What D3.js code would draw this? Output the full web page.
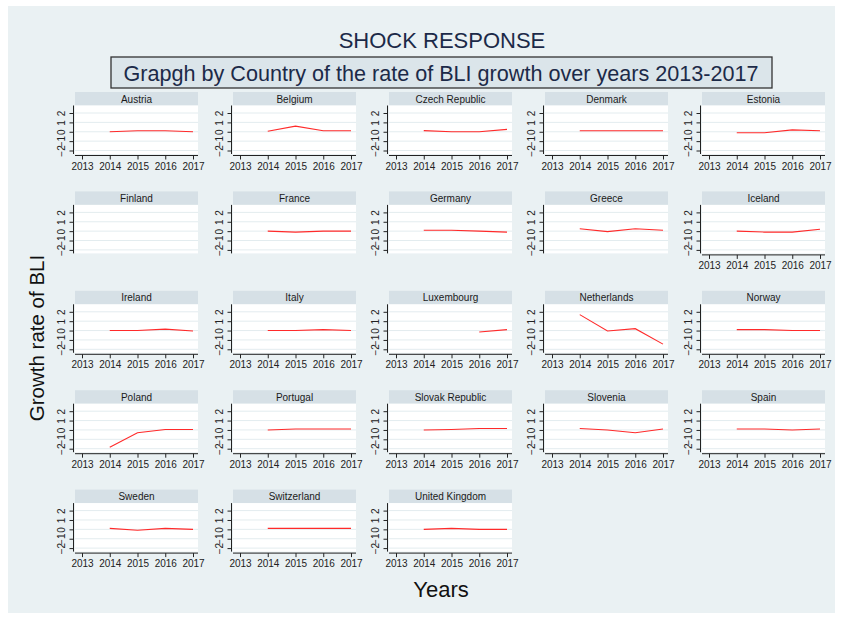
<!DOCTYPE html>
<html><head><meta charset="utf-8">
<script src="https://cdn.jsdelivr.net/npm/d3@7"></script>
<style>body{margin:0;background:#fff}svg{display:block;font-family:"Liberation Sans",Arial,sans-serif}</style>
</head><body><svg id="c" width="841" height="619"></svg>
<script>
const years = [2013, 2014, 2015, 2016, 2017];
const yTicks = [-2, -1, 0, 1, 2];
const countries = ["Austria","Belgium","Czech Republic","Denmark","Estonia",
  "Finland","France","Germany","Greece","Iceland",
  "Ireland","Italy","Luxembourg","Netherlands","Norway",
  "Poland","Portugal","Slovak Republic","Slovenia","Spain",
  "Sweden","Switzerland","United Kingdom"];
// values for 2014, 2015, 2016, 2017 (null = missing)
const dataYears = [2014, 2015, 2016, 2017];
const Austria = [0, 0.1, 0.1, 0];
const Belgium = [0.05, 0.6, 0.1, 0.1];
const Czech = [0.12, 0, 0, 0.25];
const Denmark = [0.1, 0.1, 0.1, 0.1];
const Estonia = [-0.1, -0.1, 0.2, 0.1];
const Finland = [null, null, null, null];
const France = [0, -0.1, 0, 0];
const Germany = [0.1, 0.1, 0, -0.1];
const Greece = [0.25, -0.05, 0.25, 0.1];
const Iceland = [0, -0.1, -0.1, 0.2];
const Ireland = [0, 0, 0.15, -0.05];
const Italy = [0, 0, 0.1, 0];
const Luxembourg = [null, null, -0.15, 0.1];
const Netherlands = [1.7, -0.05, 0.2, -1.45];
const Norway = [0.1, 0.1, 0, 0];
const Poland = [-1.85, -0.3, 0.05, 0.05];
const Portugal = [0, 0.1, 0.1, 0.1];
const Slovak = [0, 0.05, 0.15, 0.15];
const Slovenia = [0.15, 0, -0.3, 0.1];
const Spain = [0.1, 0.1, 0, 0.1];
const Sweden = [0.1, -0.1, 0.1, 0];
const Switzerland = [0.1, 0.1, 0.1, 0.1];
const UK = [0, 0.1, 0, 0];
const series = [Austria,Belgium,Czech,Denmark,Estonia,Finland,France,Germany,Greece,Iceland,
  Ireland,Italy,Luxembourg,Netherlands,Norway,Poland,Portugal,Slovak,Slovenia,Spain,Sweden,Switzerland,UK];
// panels whose x axis is hidden
const noXAxis = ["Finland","France","Germany","Greece"];

const svg = d3.select("#c");
svg.append("rect").attr("x",8).attr("y",6).attr("width",827).attr("height",607).attr("fill","#eaf1f3");

svg.append("text").attr("x",442).attr("y",48).attr("text-anchor","middle")
  .attr("font-size",22).attr("fill","#1c2a48").text("SHOCK RESPONSE");
svg.append("rect").attr("x",111).attr("y",57).attr("width",661).attr("height",31)
  .attr("fill","#dbe5ea").attr("stroke","#333").attr("stroke-width",1.3);
svg.append("text").attr("x",441).attr("y",80.5).attr("text-anchor","middle")
  .attr("font-size",21.6).attr("fill","#1c2a48").text("Grapgh by Country of the rate of BLI growth over years 2013-2017");

svg.append("text").attr("transform","translate(44,338) rotate(-90)").attr("text-anchor","middle")
  .attr("font-size",20.5).attr("fill","#111").text("Growth rate of BLI");
svg.append("text").attr("x",441).attr("y",597).attr("text-anchor","middle")
  .attr("font-size",22).attr("fill","#111").text("Years");

const colX = [75, 233, 389, 545, 702];
const pw = 123;
countries.forEach((name, i) => {
  const r = Math.floor(i/5), c = i%5;
  const x0 = colX[c], T = 92 + r*99.4;
  const g = svg.append("g").attr("transform",`translate(${x0},${T})`);
  const x = d3.scaleLinear().domain([2013,2017]).range([7,118]);
  const y = d3.scaleLinear().domain([-2,2]).range([58.5,21]);
  g.append("rect").attr("x",0).attr("y",0).attr("width",pw).attr("height",13.5).attr("fill","#d6e0e6");
  g.append("text").attr("x",pw/2).attr("y",10.5).attr("text-anchor","middle").attr("font-size",10)
    .attr("fill","#1a1a1a").text(name);
  g.append("rect").attr("x",0).attr("y",13.5).attr("width",pw).attr("height",48.5).attr("fill","#fff");
  g.selectAll("line.grid").data(yTicks).join("line").attr("class","grid")
    .attr("x1",0).attr("x2",pw).attr("y1",d=>y(d)).attr("y2",d=>y(d))
    .attr("stroke","#e3ecef").attr("stroke-width",1);
  const ya = g.append("g").attr("transform","translate(-1.5,0)")
    .call(d3.axisLeft(y).tickValues(yTicks).tickSize(4).tickPadding(3).tickFormat(d3.format("d")));
  ya.select(".domain").attr("d","M0,13.5V62").attr("stroke","#222");
  ya.selectAll(".tick line").attr("stroke","#222");
  ya.selectAll(".tick text").attr("font-size",10).attr("fill","#222")
    .attr("text-anchor","middle").attr("dy",0).attr("x",0)
    .attr("transform","translate(-11,0) rotate(-90)").attr("dominant-baseline","middle");
  if (!noXAxis.includes(name)) {
    const xa = g.append("g").attr("transform","translate(0,63.5)")
      .call(d3.axisBottom(x).tickValues(years).tickSize(4).tickPadding(3).tickFormat(d3.format("d")));
    xa.select(".domain").attr("d","M0,0H"+pw).attr("stroke","#222");
    xa.selectAll(".tick line").attr("stroke","#222");
    xa.selectAll(".tick text").attr("font-size",10).attr("fill","#222");
  }
  const pts = dataYears.map((yr,k)=>({yr, v: series[i][k]}));
  const line = d3.line().defined(d=>d.v!==null).x(d=>x(d.yr)).y(d=>y(d.v));
  g.append("path").datum(pts).attr("d",line).attr("fill","none").attr("stroke","#ff2a2a").attr("stroke-width",1.1);
});
</script></body></html>
